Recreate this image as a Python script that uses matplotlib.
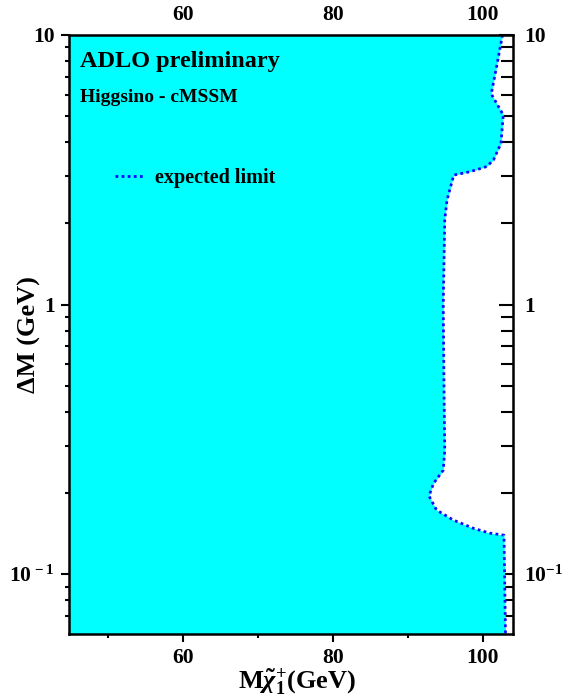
import matplotlib
matplotlib.use("Agg")
import matplotlib.pyplot as plt
from matplotlib.ticker import FixedLocator, NullFormatter

# expected limit contour (delta M in GeV, chargino mass in GeV)
dm = [10.0, 7.85, 6.04, 5.05, 3.96, 3.44, 3.25, 3.11, 3.02, 2.44, 2.06, 1.0,
      0.50, 0.288, 0.243, 0.217, 0.195, 0.173, 0.159, 0.148, 0.142, 0.1395, 0.06]
mlim = [102.6, 101.9, 101.1, 102.7, 102.4, 101.4, 100.5, 98.3, 96.1, 95.2, 94.9, 94.7,
        94.8, 94.9, 94.7, 93.4, 92.8, 93.8, 96.0, 98.7, 100.9, 102.8, 103.0]

xmin, xmax = 44.8, 104.0
ymin, ymax = 0.06, 10.0
xmajor = [60, 80, 100]
xminor = [50, 70, 90]
ymajor = [0.1, 1, 10]
ylabels = ['10$^{\\,-1}$', '1', '10']
ylabels_right = ['10$^{-1}$', '1', '10']
yminor = [0.07, 0.08, 0.09, 0.2, 0.3, 0.4, 0.5, 0.6, 0.7, 0.8, 0.9,
          2, 3, 4, 5, 6, 7, 8, 9]

plt.rcParams['font.family'] = ['Liberation Serif', 'DejaVu Serif']
plt.rcParams['font.weight'] = 'bold'
plt.rcParams['mathtext.fontset'] = 'custom'
plt.rcParams['mathtext.rm'] = 'Liberation Serif:bold'
plt.rcParams['mathtext.it'] = 'Liberation Serif:italic:bold'
plt.rcParams['mathtext.bf'] = 'Liberation Serif:bold'

fig = plt.figure(figsize=(5.7, 6.98), dpi=100)
ax = fig.add_axes([0.121, 0.0917, 0.779, 0.8583])

ax.fill_betweenx(dm, xmin, mlim, color='#00ffff', lw=0)
ax.plot(mlim, dm, color='#0a0aff', lw=2.0, ls=(0, (1, 1.2)), label='expected limit')

ax.set_yscale('log')
ax.set_xlim(xmin, xmax)
ax.set_ylim(ymin, ymax)

ax.xaxis.set_major_locator(FixedLocator(xmajor))
ax.xaxis.set_minor_locator(FixedLocator(xminor))
ax.yaxis.set_major_locator(FixedLocator(ymajor))
ax.yaxis.set_minor_locator(FixedLocator(yminor))
ax.yaxis.set_minor_formatter(NullFormatter())
ax.set_yticklabels(ylabels)
ax.tick_params(which='both', direction='out', width=1.5, labelsize=15.5, pad=4)
ax.tick_params(which='major', length=6)
ax.tick_params(which='minor', length=3)
for s in ax.spines.values():
    s.set_linewidth(1.8)

top = ax.secondary_xaxis('top')
top.xaxis.set_major_locator(FixedLocator(xmajor))
top.xaxis.set_minor_locator(FixedLocator(xminor))
top.tick_params(which='both', direction='in', width=1.5, labelsize=15.5, pad=7)
top.tick_params(which='major', length=8)
top.tick_params(which='minor', length=5)

right = ax.secondary_yaxis('right')
right.set_yscale('log')
right.yaxis.set_major_locator(FixedLocator(ymajor))
right.yaxis.set_minor_locator(FixedLocator(yminor))
right.yaxis.set_minor_formatter(NullFormatter())
right.set_yticklabels(ylabels_right)
right.tick_params(which='both', direction='in', width=1.5, labelsize=15.5, pad=8)
right.tick_params(which='major', length=10)
right.tick_params(which='minor', length=9)

ax.set_ylabel('ΔM (GeV)', fontsize=19, fontweight='bold', va='center')
ax.yaxis.set_label_coords(-0.088, 0.5)
ax.set_xlabel(r'M$\tilde{\chi}^{+}_{1}$(GeV)', fontsize=19, fontweight='bold', va='center')
ax.xaxis.set_label_coords(0.514, -0.079)

ax.text(0.025, 0.955, 'ADLO preliminary', transform=ax.transAxes, fontsize=17.5,
        fontweight='bold', va='center', ha='left')
ax.text(0.025, 0.895, 'Higgsino - cMSSM', transform=ax.transAxes, fontsize=14,
        fontweight='bold', va='center', ha='left')

ax.legend(loc='center left', bbox_to_anchor=(0.104, 0.761), frameon=False,
          fontsize=14.5, handlelength=1.5, handletextpad=0.5,
          borderpad=0, borderaxespad=0)

fig.savefig('out.png', dpi=100)
